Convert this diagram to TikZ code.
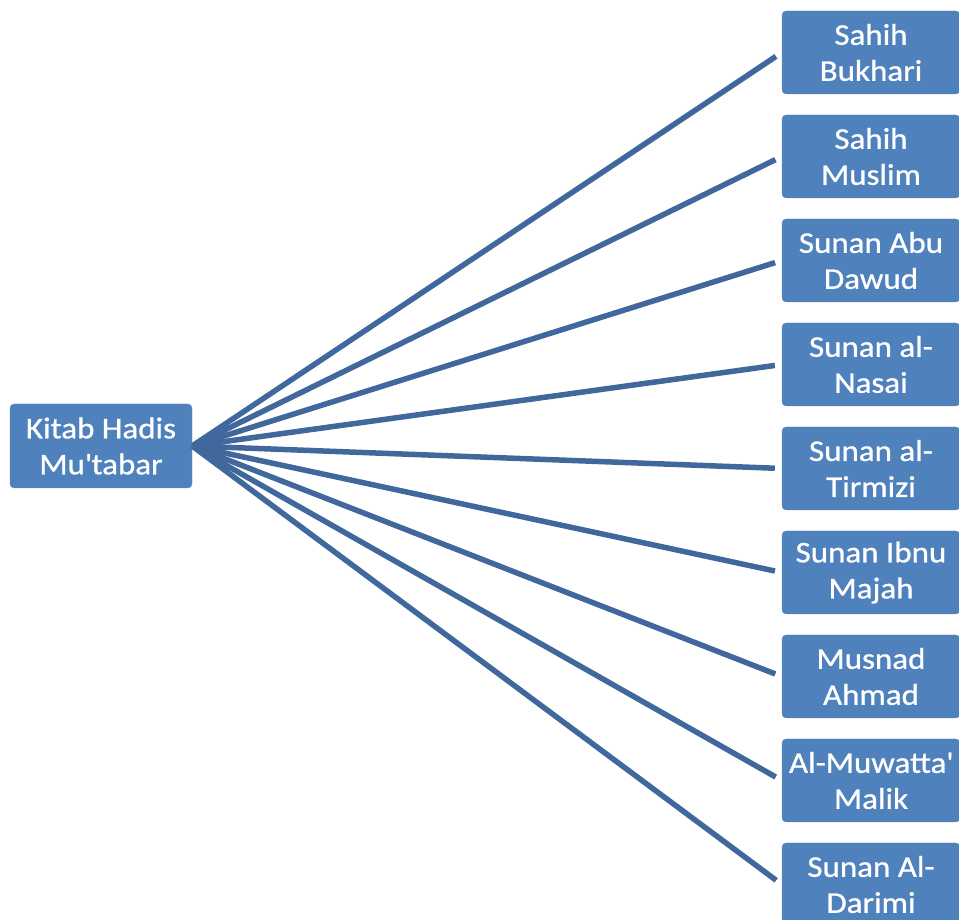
\documentclass[tikz,border=0pt]{standalone}
\usepackage{fontspec}
\setmainfont{Carlito}[FakeStretch=1.1, FakeBold=0.8]
\usepackage{tikz}

\definecolor{kitabblue}{HTML}{4F81BD}
\definecolor{kitabedge}{HTML}{6A93C6}
\definecolor{kitabline}{HTML}{41689C}

\begin{document}
\begin{tikzpicture}[x=1pt, y=1pt,
  kitab/.style={draw=kitabedge, fill=kitabblue, rounded corners=4pt, text=white, align=center, minimum width=178pt, minimum height=83pt, inner sep=0pt, font=\fontsize{30}{36}\selectfont},
  link/.style={draw=kitabline, line width=5.5pt, shorten >=7pt}]
\useasboundingbox (0,0) rectangle (959,919);
\node[kitab, minimum width=182pt, minimum height=84pt] (K) at (101,473) {Kitab Hadis\\Mu\textquotesingle tabar};
\node[kitab] (B1) at (871,866.5) {Sahih\\Bukhari};
\node[kitab] (B2) at (871,762.5) {Sahih\\Muslim};
\node[kitab] (B3) at (871,658.5) {Sunan Abu\\Dawud};
\node[kitab] (B4) at (871,554.5) {Sunan al-\\Nasai};
\node[kitab] (B5) at (871,450.5) {Sunan al-\\Tirmizi};
\node[kitab] (B6) at (871,346.5) {Sunan Ibnu\\Majah};
\node[kitab] (B7) at (871,242.5) {Musnad\\Ahmad};
\node[kitab] (B8) at (871,138.5) {Al-Muwatta\textquotesingle\\Malik};
\node[kitab] (B9) at (871,34.5) {Sunan Al-\\Darimi};
\draw[link] (K.east) -- (B1.west);
\draw[link] (K.east) -- (B2.west);
\draw[link] (K.east) -- (B3.west);
\draw[link] (K.east) -- (B4.west);
\draw[link] (K.east) -- (B5.west);
\draw[link] (K.east) -- (B6.west);
\draw[link] (K.east) -- (B7.west);
\draw[link] (K.east) -- (B8.west);
\draw[link] (K.east) -- (B9.west);
\end{tikzpicture}
\end{document}
